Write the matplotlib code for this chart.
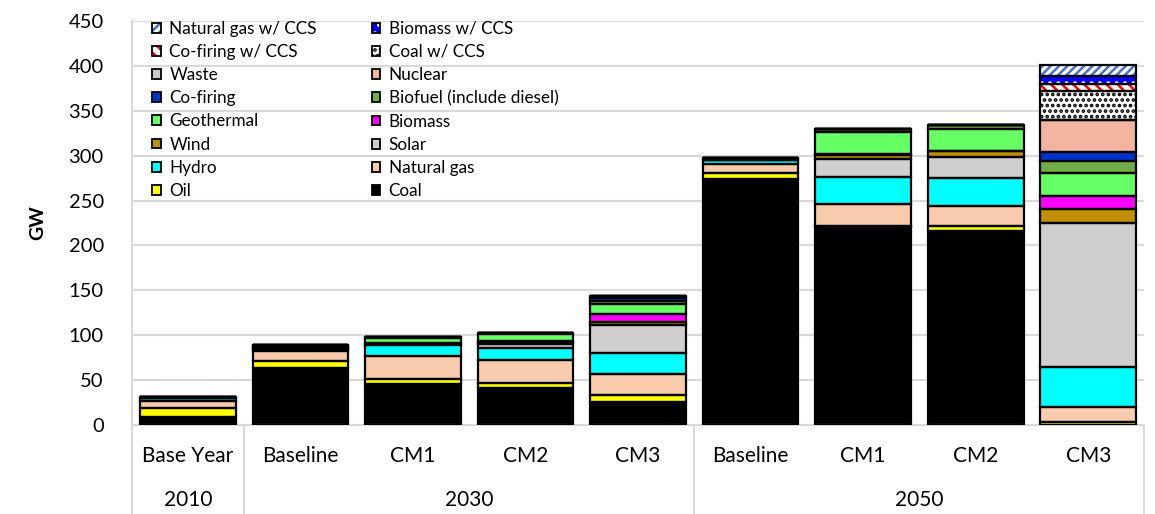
import matplotlib
matplotlib.use("Agg")
import matplotlib.pyplot as plt
from matplotlib.patches import Patch
import numpy as np

plt.rcParams['font.family'] = ['Lato', 'DejaVu Sans']
plt.rcParams['hatch.linewidth'] = 1.8

# categories (scenario / year)
scenarios = ["Base Year", "Baseline", "CM1", "CM2", "CM3", "Baseline", "CM1", "CM2", "CM3"]
years = ["2010", "2030", "2050"]
year_span = [(0, 0), (1, 4), (5, 8)]

# installed capacity, GW, stacked from bottom to top
coal          = [8.8, 63.2, 46.0, 41.5, 25.9, 273.5, 221.0, 216.5, 0.0]
oil           = [10.0, 8.6, 5.5, 5.6, 7.1, 7.1, 1.0, 4.8, 3.3]
natural_gas   = [8.4, 10.6, 25.4, 25.6, 24.1, 9.7, 24.2, 23.1, 16.8]
hydro         = [2.5, 2.4, 11.75, 13.3, 23.0, 4.6, 30.0, 30.7, 44.5]
solar         = [0.0, 0.5, 1.2, 4.5, 31.7, 0.0, 20.1, 24.0, 160.2]
wind          = [0.0, 0.0, 0.5, 1.2, 3.1, 0.0, 4.6, 6.2, 15.6]
biomass       = [0.5, 1.3, 1.15, 1.6, 8.4, 1.3, 1.3, 0.5, 14.8]
geothermal    = [1.2, 1.8, 5.4, 8.4, 11.2, 1.5, 24.3, 24.5, 25.7]
biofuel       = [0.0, 0.8, 1.3, 1.3, 3.1, 0.0, 3.6, 4.2, 13.7]
co_firing     = [0.0, 0.0, 0.0, 0.0, 4.4, 0.0, 0.0, 0.0, 9.2]
nuclear       = [0.0, 0.0, 0.0, 0.0, 2.0, 0.0, 0.0, 0.0, 35.5]
waste         = [0.0, 0.0, 0.0, 0.0, 0.0, 0.0, 0.0, 0.0, 0.0]
coal_ccs      = [0.0, 0.0, 0.0, 0.0, 0.0, 0.0, 0.0, 0.0, 32.9]
co_firing_ccs = [0.0, 0.0, 0.0, 0.0, 0.0, 0.0, 0.0, 0.0, 7.5]
biomass_ccs   = [0.0, 0.0, 0.0, 0.0, 0.0, 0.0, 0.0, 0.0, 8.7]
gas_ccs       = [0.0, 0.0, 0.0, 0.0, 0.0, 0.0, 0.0, 0.0, 12.4]

# name, values, face colour, hatch, hatch colour
series = [
    ("Coal", coal, "#000000", None, None),
    ("Oil", oil, "#FFFF00", None, None),
    ("Natural gas", natural_gas, "#F8CBAD", None, None),
    ("Hydro", hydro, "#00FFFF", None, None),
    ("Solar", solar, "#D0CECE", None, None),
    ("Wind", wind, "#BF9000", None, None),
    ("Biomass", biomass, "#FF00FF", None, None),
    ("Geothermal", geothermal, "#66FF66", None, None),
    ("Biofuel (include diesel)", biofuel, "#70AD47", None, None),
    ("Co-firing", co_firing, "#0033CC", None, None),
    ("Nuclear", nuclear, "#F4B5A0", None, None),
    ("Waste", waste, "#C9C9C9", None, None),
    ("Coal w/ CCS", coal_ccs, "#FFFFFF", "...", "#000000"),
    ("Co-firing w/ CCS", co_firing_ccs, "#FFFFFF", "\\\\\\", "#FF0000"),
    ("Biomass w/ CCS", biomass_ccs, "#0000FF", "..", "#FFFFFF"),
    ("Natural gas w/ CCS", gas_ccs, "#FFFFFF", "////", "#4472C4"),
]

fig = plt.figure(figsize=(11.55, 5.14), dpi=100)
ax = fig.add_axes([0.1139, 0.1732, 0.877, 0.7858])

x = np.arange(len(scenarios))
width = 0.85
edge_lw = 1.6

bottom = np.zeros(len(x))
bottoms = []
for name, vals, fc, hatch, hc in series:
    vals = np.array(vals)
    bottoms.append(bottom.copy())
    ax.bar(x, vals, width, bottom=bottom, color=fc,
           edgecolor=hc if hatch else fc, linewidth=0, hatch=hatch, zorder=2)
    bottom = bottom + vals

# black outlines of every segment on top
for (name, vals, fc, hatch, hc), b in zip(series, bottoms):
    ax.bar(x, vals, width, bottom=b, fill=False, edgecolor="black",
           linewidth=edge_lw, zorder=3)

ax.set_ylim(0, 450)
ax.set_xlim(-0.5, len(x) - 0.5)
ax.set_yticks(np.arange(0, 451, 50))
ax.yaxis.grid(True, color="#D9D9D9", linewidth=1.5)
ax.set_axisbelow(True)
ax.tick_params(axis="y", length=0, labelsize=14.5, pad=20)
ax.set_xticks([])
for s in ["top", "right"]:
    ax.spines[s].set_visible(False)
ax.spines["left"].set_color("#D9D9D9")
ax.spines["left"].set_linewidth(1.5)
ax.spines["bottom"].set_color("#D9D9D9")
ax.spines["bottom"].set_linewidth(1.5)
ax.set_ylabel("GW", fontsize=14, fontweight="bold", labelpad=16)

# two-level category axis
tr = ax.get_xaxis_transform()
for i, lab in enumerate(scenarios):
    ax.text(i, -0.077, lab, transform=tr, ha="center", va="center", fontsize=15)
for yr, (a, b) in zip(years, year_span):
    ax.text((a + b) / 2, -0.186, yr, transform=tr, ha="center", va="center", fontsize=15)
for sep in [-0.5, 0.5, 4.5, 8.5]:
    ax.plot([sep, sep], [0, -0.23], transform=tr, color="#D9D9D9",
            linewidth=1.5, clip_on=False)

# legend, filled row by row like the original
handles = {}
for name, vals, fc, hatch, hc in series:
    fill = Patch(facecolor=fc, edgecolor=hc if hatch else fc, linewidth=0, hatch=hatch)
    line = Patch(fill=False, edgecolor="black", linewidth=1.3)
    handles[name] = (fill, line)
order = ["Natural gas w/ CCS", "Co-firing w/ CCS", "Waste", "Co-firing",
         "Geothermal", "Wind", "Hydro", "Oil",
         "Biomass w/ CCS", "Coal w/ CCS", "Nuclear", "Biofuel (include diesel)",
         "Biomass", "Solar", "Natural gas", "Coal"]
ax.legend([handles[n] for n in order], order, ncol=2, loc="upper left",
          bbox_to_anchor=(0.012, 1.022), frameon=False, fontsize=12.3,
          handlelength=0.5, handleheight=0.5, handletextpad=0.5,
          labelspacing=0.42, columnspacing=3.2, borderpad=0)

fig.savefig("out.png", dpi=100)
